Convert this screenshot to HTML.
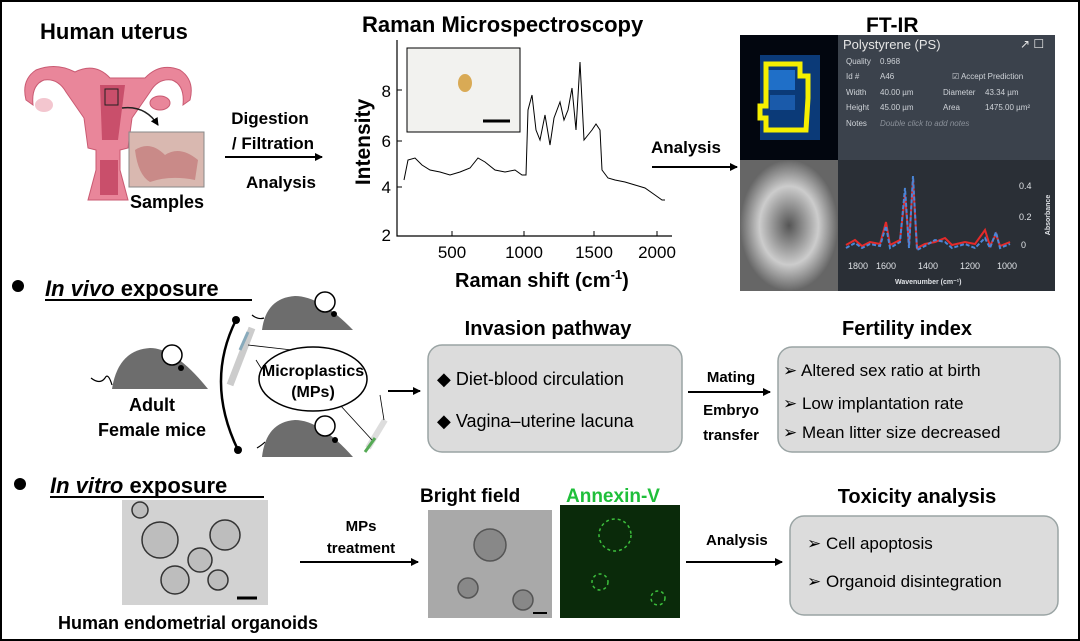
<!DOCTYPE html>
<html><head><meta charset="utf-8"><style>
html,body{margin:0;padding:0;background:#fff}
svg{display:block}
text{font-family:"Liberation Sans",Arial,sans-serif}
</style></head><body>
<svg width="1080" height="641" viewBox="0 0 1080 641" xmlns="http://www.w3.org/2000/svg">
<defs>
<marker id="ah" markerWidth="8" markerHeight="8" refX="7" refY="4" orient="auto" markerUnits="userSpaceOnUse"><path d="M0,0 L8,4 L0,8 z" fill="#000"/></marker>
<radialGradient id="g1"><stop offset="0" stop-color="#555"/><stop offset="0.6" stop-color="#ccc"/><stop offset="1" stop-color="#666"/></radialGradient>
</defs>
<rect x="1" y="1" width="1078" height="639" fill="#fff" stroke="#000" stroke-width="2"/>

<!-- Human uterus -->
<text x="40" y="39" font-size="22" font-weight="bold">Human uterus</text>
<g fill="#e9869a" stroke="#c95a72" stroke-width="1">
<path d="M75,72 Q95,62 110,78 L145,78 Q160,62 180,70 Q195,80 190,100 L183,105 Q185,85 172,80 Q158,78 150,92 L132,118 L128,148 L120,150 L120,170 L128,200 L88,200 L96,170 L96,150 L88,148 L84,118 L66,92 Q58,78 44,80 Q31,85 33,105 L26,100 Q21,80 36,70 Q56,62 75,72 z"/>
</g>
<path d="M100,85 L125,85 L118,140 L102,140 z" fill="#c94f6b"/>
<rect x="100" y="160" width="18" height="35" fill="#c94f6b"/>
<ellipse cx="44" cy="105" rx="9" ry="7" fill="#f3c6cf"/>
<ellipse cx="160" cy="103" rx="10" ry="7" fill="#e9869a" stroke="#c95a72"/>
<rect x="105" y="89" width="13" height="16" fill="none" stroke="#222"/>
<path d="M122,108 Q145,105 158,125" fill="none" stroke="#222" stroke-width="1.5" marker-end="url(#ah)"/>
<rect x="129" y="132" width="75" height="55" fill="#d9b8b0" stroke="#888"/>
<path d="M135,150 Q150,140 165,155 Q180,145 198,160 L195,180 Q170,175 150,182 Q138,175 135,150z" fill="#c98a88"/>
<text x="130" y="208" font-size="18" font-weight="bold">Samples</text>

<text x="270" y="124" font-size="17" font-weight="bold" text-anchor="middle">Digestion</text>
<text x="273" y="149" font-size="17" font-weight="bold" text-anchor="middle">/ Filtration</text>
<line x1="225" y1="157" x2="322" y2="157" stroke="#000" stroke-width="2" marker-end="url(#ah)"/>
<text x="281" y="188" font-size="17" font-weight="bold" text-anchor="middle">Analysis</text>

<!-- Raman -->
<text x="362" y="32" font-size="22" font-weight="bold">Raman Microspectroscopy</text>
<path d="M397,40 L397,236 L672,236" fill="none" stroke="#000" stroke-width="1.2"/>
<g font-size="17" text-anchor="end"><text x="391" y="97">8</text><text x="391" y="147">6</text><text x="391" y="193">4</text><text x="391" y="241">2</text></g>
<g stroke="#000"><line x1="397" y1="90" x2="402" y2="90"/><line x1="397" y1="141" x2="402" y2="141"/><line x1="397" y1="187" x2="402" y2="187"/><line x1="452" y1="236" x2="452" y2="231"/><line x1="524" y1="236" x2="524" y2="231"/><line x1="594" y1="236" x2="594" y2="231"/><line x1="657" y1="236" x2="657" y2="231"/></g>
<g font-size="17" text-anchor="middle"><text x="452" y="258">500</text><text x="524" y="258">1000</text><text x="594" y="258">1500</text><text x="657" y="258">2000</text></g>
<text transform="translate(370,142) rotate(-90)" font-size="21" font-weight="bold" text-anchor="middle">Intensity</text>
<text x="455" y="287" font-size="20" font-weight="bold">Raman shift (cm<tspan font-size="13" dy="-8">-1</tspan><tspan dy="8">)</tspan></text>
<polyline fill="none" stroke="#000" stroke-width="1" points="404,180 408,160 415,158 422,165 430,170 440,172 450,175 460,172 470,168 478,158 485,162 495,170 505,172 515,170 522,175 526,175 528,110 532,95 536,130 540,140 545,115 550,145 554,118 560,102 564,120 568,110 572,88 576,130 580,62 584,140 588,135 592,130 596,124 600,130 602,170 608,178 615,180 625,182 635,185 645,188 655,195 662,200 665,200"/>
<rect x="407" y="48" width="113" height="84" fill="#f2f2ef" stroke="#000"/>
<ellipse cx="465" cy="83" rx="7" ry="9" fill="#d9aa55"/>
<line x1="483" y1="121" x2="510" y2="121" stroke="#000" stroke-width="3"/>

<text x="651" y="153" font-size="17" font-weight="bold">Analysis</text>
<line x1="652" y1="167" x2="737" y2="167" stroke="#000" stroke-width="2" marker-end="url(#ah)"/>

<!-- FT-IR -->
<text x="866" y="32" font-size="21" font-weight="bold">FT-IR</text>
<rect x="740" y="35" width="315" height="256" fill="#2a2f36"/>
<rect x="838" y="35" width="217" height="125" fill="#3b424c"/>
<rect x="740" y="35" width="98" height="125" fill="#02060f"/>
<rect x="760" y="55" width="60" height="85" fill="#0b3a78"/>
<rect x="765" y="70" width="30" height="20" fill="#1f6fc8"/>
<rect x="770" y="95" width="25" height="15" fill="#1a5aaa"/>
<path d="M766,64 L800,64 L800,76 L808,76 L808,98 L806,130 L766,130 L766,118 L760,118 L760,106 L766,106 z" fill="none" stroke="#f5ef00" stroke-width="5"/>
<rect x="740" y="160" width="98" height="131" fill="url(#g1)"/>
<g fill="#e6e6e6" font-size="12"><text x="843" y="49" font-size="13">Polystyrene (PS)</text><text x="1020" y="48">↗ ☐</text></g>
<g fill="#cfd3d8" font-size="8">
<text x="846" y="64">Quality</text><text x="880" y="64">0.968</text>
<text x="846" y="79">Id #</text><text x="880" y="79">A46</text><text x="952" y="79">☑ Accept Prediction</text>
<text x="846" y="95">Width</text><text x="880" y="95">40.00 µm</text><text x="943" y="95">Diameter</text><text x="985" y="95">43.34 µm</text>
<text x="846" y="110">Height</text><text x="880" y="110">45.00 µm</text><text x="943" y="110">Area</text><text x="985" y="110">1475.00 µm²</text>
<text x="846" y="126">Notes</text><text x="880" y="126" font-style="italic" fill="#8a9099">Double click to add notes</text>
</g>
<polyline fill="none" stroke="#e52a2a" stroke-width="2" points="846,245 855,240 862,246 870,242 880,244 886,222 890,245 900,240 905,195 909,245 913,180 917,248 925,244 935,242 945,238 952,245 965,242 975,244 985,230 990,246 996,234 1000,246 1010,242"/>
<polyline fill="none" stroke="#4a86d8" stroke-width="2" stroke-dasharray="4,2" points="846,248 855,243 862,248 870,244 880,246 886,226 890,248 900,242 905,188 909,248 913,176 917,250 925,246 935,240 945,242 952,248 965,244 975,248 985,238 990,248 996,232 1000,248 1010,244"/>
<g fill="#dfe2e6" font-size="9"><text x="1019" y="189">0.4</text><text x="1019" y="220">0.2</text><text x="1021" y="248">0</text>
<text x="848" y="269">1800</text><text x="876" y="269">1600</text><text x="918" y="269">1400</text><text x="960" y="269">1200</text><text x="997" y="269">1000</text>
<text x="895" y="284" font-size="7" font-weight="bold">Wavenumber (cm⁻¹)</text>
<text transform="translate(1050,215) rotate(-90)" font-size="7" font-weight="bold" text-anchor="middle">Absorbance</text></g>

<!-- In vivo -->
<circle cx="18" cy="286" r="6" fill="#000"/>
<text x="45" y="296" font-size="22" font-weight="bold"><tspan font-style="italic">In vivo</tspan> exposure</text>
<line x1="45" y1="300" x2="252" y2="300" stroke="#000" stroke-width="2"/>
<g fill="#6d6d6d">
<path d="M112,389 Q118,350 150,348 Q175,348 208,389 z"/>
<path d="M262,330 Q266,298 295,296 Q320,296 353,330 z"/>
<path d="M262,457 Q266,422 295,420 Q320,420 353,457 z"/>
</g>
<g fill="#fff" stroke="#000" stroke-width="1.5"><circle cx="172" cy="355" r="10"/><circle cx="325" cy="302" r="10"/><circle cx="325" cy="426" r="10"/></g>
<g fill="#000"><circle cx="181" cy="368" r="3"/><circle cx="334" cy="314" r="3"/><circle cx="335" cy="440" r="3"/></g>
<g fill="none" stroke="#000" stroke-width="1.2"><path d="M91,378 Q100,385 105,378 Q108,372 112,385"/><path d="M252,315 Q258,320 264,318"/><path d="M257,448 Q262,445 265,442"/></g>
<text x="152" y="411" font-size="18" font-weight="bold" text-anchor="middle">Adult</text>
<text x="152" y="436" font-size="18" font-weight="bold" text-anchor="middle">Female mice</text>
<path d="M236,320 Q205,382 238,450" fill="none" stroke="#000" stroke-width="2.5"/>
<circle cx="236" cy="320" r="4" fill="#000"/><circle cx="238" cy="450" r="4" fill="#000"/>
<path d="M230,385 L252,328" stroke="#ccc" stroke-width="7"/><path d="M240,350 L248,332" stroke="#8ab" stroke-width="3"/>
<path d="M368,448 L385,420" stroke="#ddd" stroke-width="6"/><path d="M365,452 L375,438" stroke="#5a5" stroke-width="3"/>
<g stroke="#000" stroke-width="0.8"><line x1="248" y1="345" x2="292" y2="350"/><line x1="256" y1="360" x2="266" y2="376"/><line x1="340" y1="405" x2="372" y2="440"/><line x1="380" y1="395" x2="384" y2="420"/></g>
<ellipse cx="313" cy="379" rx="54" ry="32" fill="#fff" stroke="#000" stroke-width="1.5"/>
<text x="313" y="376" font-size="16" font-weight="bold" text-anchor="middle">Microplastics</text>
<text x="313" y="397" font-size="16" font-weight="bold" text-anchor="middle">(MPs)</text>
<line x1="388" y1="391" x2="420" y2="391" stroke="#000" stroke-width="2" marker-end="url(#ah)"/>

<text x="548" y="335" font-size="20" font-weight="bold" text-anchor="middle">Invasion pathway</text>
<rect x="428" y="345" width="254" height="107" rx="14" fill="#dcdcdc" stroke="#9aa4a4" stroke-width="1.5"/>
<text x="437" y="385" font-size="18">◆ Diet-blood circulation</text>
<text x="437" y="427" font-size="18">◆ Vagina–uterine lacuna</text>
<text x="731" y="382" font-size="15" font-weight="bold" text-anchor="middle">Mating</text>
<line x1="688" y1="392" x2="770" y2="392" stroke="#000" stroke-width="2" marker-end="url(#ah)"/>
<text x="731" y="415" font-size="15" font-weight="bold" text-anchor="middle">Embryo</text>
<text x="731" y="440" font-size="15" font-weight="bold" text-anchor="middle">transfer</text>

<text x="907" y="335" font-size="20" font-weight="bold" text-anchor="middle">Fertility index</text>
<rect x="778" y="347" width="282" height="105" rx="14" fill="#dcdcdc" stroke="#9aa4a4" stroke-width="1.5"/>
<text x="783" y="376" font-size="17">➢ Altered sex ratio at birth</text>
<text x="783" y="409" font-size="17">➢ Low implantation rate</text>
<text x="783" y="438" font-size="17">➢ Mean litter size decreased</text>

<!-- In vitro -->
<circle cx="20" cy="484" r="6" fill="#000"/>
<text x="50" y="493" font-size="22" font-weight="bold"><tspan font-style="italic">In vitro</tspan> exposure</text>
<line x1="50" y1="497" x2="264" y2="497" stroke="#000" stroke-width="2"/>
<rect x="122" y="500" width="146" height="105" fill="#d2d2d2"/>
<g fill="#bdbdbd" stroke="#333" stroke-width="1.5"><circle cx="160" cy="540" r="18"/><circle cx="225" cy="535" r="15"/><circle cx="200" cy="560" r="12"/><circle cx="175" cy="580" r="14"/><circle cx="218" cy="580" r="10"/><circle cx="140" cy="510" r="8"/></g>
<line x1="237" y1="598" x2="257" y2="598" stroke="#000" stroke-width="3"/>
<text x="58" y="629" font-size="18" font-weight="bold">Human endometrial organoids</text>
<text x="361" y="531" font-size="15" font-weight="bold" text-anchor="middle">MPs</text>
<text x="361" y="553" font-size="15" font-weight="bold" text-anchor="middle">treatment</text>
<line x1="300" y1="562" x2="418" y2="562" stroke="#000" stroke-width="2" marker-end="url(#ah)"/>
<text x="420" y="502" font-size="19" font-weight="bold">Bright field</text>
<text x="566" y="502" font-size="19" font-weight="bold" fill="#1fbf3a">Annexin-V</text>
<rect x="428" y="510" width="124" height="108" fill="#a9a9a9"/>
<g fill="#888" stroke="#555" stroke-width="1.5"><circle cx="490" cy="545" r="16"/><circle cx="468" cy="588" r="10"/><circle cx="523" cy="600" r="10"/></g>
<line x1="533" y1="613" x2="547" y2="613" stroke="#000" stroke-width="2"/>
<rect x="560" y="505" width="120" height="113" fill="#0a2a0a"/>
<g fill="none" stroke="#3cbf3c" stroke-width="1.5" stroke-dasharray="3,3"><circle cx="615" cy="535" r="16"/><circle cx="600" cy="582" r="8"/><circle cx="658" cy="598" r="7"/></g>
<text x="706" y="545" font-size="15" font-weight="bold">Analysis</text>
<line x1="686" y1="562" x2="782" y2="562" stroke="#000" stroke-width="2" marker-end="url(#ah)"/>
<text x="917" y="503" font-size="20" font-weight="bold" text-anchor="middle">Toxicity analysis</text>
<rect x="790" y="516" width="268" height="99" rx="14" fill="#dcdcdc" stroke="#9aa4a4" stroke-width="1.5"/>
<text x="807" y="549" font-size="17">➢ Cell apoptosis</text>
<text x="807" y="587" font-size="17">➢ Organoid disintegration</text>
</svg>
</body></html>
